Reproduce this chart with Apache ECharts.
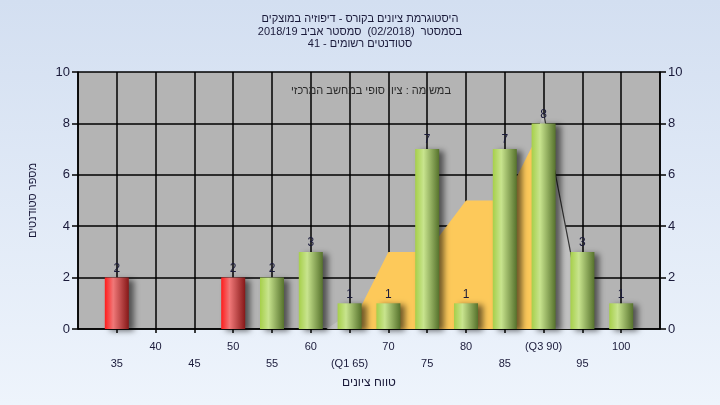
<!DOCTYPE html>
<html>
<head>
<meta charset="utf-8">
<script src="https://cdn.jsdelivr.net/npm/echarts@6/dist/echarts.min.js"></script>
<style>html,body{margin:0;padding:0;}#c{width:720px;height:405px;}</style>
</head>
<body>
<div id="c"></div>
<script>
// ---- data ----
const titleLines = ['היסטוגרמת ציונים בקורס - דיפוזיה במוצקים', 'בסמסטר  (02/2018)  סמסטר אביב 2018/19', 'סטודנטים רשומים - 41'];
const subtitle = 'במשימה : ציון סופי במחשב המרכזי';
const xName = 'טווח ציונים';
const yName = 'מספר סטודנטים';
const grades = [35, 40, 45, 50, 55, 60, 65, 70, 75, 80, 85, 90, 95, 100];
const counts = [2, 0, 0, 2, 2, 3, 1, 1, 7, 1, 7, 8, 3, 1];
const passGrade = 55;
const specialLabels = {65: '(Q1 65)', 90: '(Q3 90)'};
const areaX = [65, 70, 75, 80, 85, 90];
const areaY = [0, 3, 3, 5, 5, 8];
const shadeX = [62, 67, 85, 90, 95];
const shadeY = [0, 1, 4, 8.4, 0.6];
const edgeX = [90, 95];
const edgeY = [8.4, 0.6];
const xMin = 30, xMax = 105, xStep = 5;
const yMin = 0, yMax = 10, yStep = 2;

const FONT = 'Liberation Sans, DejaVu Sans, sans-serif';
const rtl = s => '\u202B' + s + '\u202C';
const zip = (a, b) => a.map((v, i) => [v, b[i]]);

const redGrad = new echarts.graphic.LinearGradient(0, 0, 1, 0, [
  {offset: 0, color: '#ff1c1c'}, {offset: 0.35, color: '#f07878'}, {offset: 1, color: '#861818'}
]);
const greenGrad = new echarts.graphic.LinearGradient(0, 0, 1, 0, [
  {offset: 0, color: '#a6cf4a'}, {offset: 0.35, color: '#c8e48e'}, {offset: 1, color: '#56722c'}
]);

const chart = echarts.init(document.getElementById('c'));
const yAxisCommon = {
  type: 'value', min: yMin, max: yMax, interval: yStep,
  axisLine: {show: true, lineStyle: {color: '#000', width: 1.5}},
  axisTick: {show: true, length: 6, lineStyle: {color: '#000', width: 1.5}},
  axisLabel: {color: '#1a1a3a', fontSize: 13, fontFamily: FONT, margin: 8},
  splitLine: {show: false}
};
chart.setOption({
  backgroundColor: new echarts.graphic.LinearGradient(0, 0, 0, 1, [
    {offset: 0, color: '#d3dff1'}, {offset: 1, color: '#eef4fc'}
  ]),
  title: [{
    text: titleLines.map(rtl).join('\n'), left: 'center', top: 8,
    textStyle: {fontSize: 11, fontWeight: 'normal', color: '#1a1a3a', fontFamily: FONT, lineHeight: 12.5}
  }, {
    text: rtl(subtitle), left: 366, top: 80, textAlign: 'center',
    textStyle: {fontSize: 11, fontWeight: 'normal', color: '#2a2a2a', fontFamily: FONT}
  }],
  grid: {left: 78, right: 60, top: 72, bottom: 76, show: true, backgroundColor: '#b4b4b4', borderWidth: 0},
  xAxis: {
    type: 'value', min: xMin, max: xMax, interval: xStep,
    name: rtl(xName), nameLocation: 'middle', nameGap: 44,
    nameTextStyle: {fontSize: 12, color: '#1a1a3a', fontFamily: FONT},
    axisLine: {show: true, lineStyle: {color: '#000', width: 1.5}},
    axisTick: {show: true, length: 4, lineStyle: {color: '#000', width: 1.5}},
    splitLine: {show: true, lineStyle: {color: '#000', width: 1.5}},
    axisLabel: {
      color: '#1a1a3a', fontSize: 11, fontFamily: FONT, margin: 9, lineHeight: 17,
      showMinLabel: false, showMaxLabel: false,
      formatter: v => {
        if (v <= xMin || v >= xMax) return '';
        const t = specialLabels[v] || String(v);
        return (v % 10 === 5) ? '\n' + t : t;
      }
    }
  },
  yAxis: [
    Object.assign({}, yAxisCommon, {
      position: 'left', name: rtl(yName), nameLocation: 'middle', nameGap: 40, nameRotate: 90,
      nameTextStyle: {fontSize: 11, color: '#1a1a3a', fontFamily: FONT},
      splitLine: {show: true, lineStyle: {color: '#000', width: 1.5}}
    }),
    Object.assign({}, yAxisCommon, {position: 'right'})
  ],
  series: [
    {
      type: 'line', data: zip(shadeX, shadeY), symbol: 'none', lineStyle: {width: 0},
      areaStyle: {color: '#c2c2c2', opacity: 1}, z: 1, silent: true
    },
    {
      type: 'line', data: zip(edgeX, edgeY), symbol: 'none',
      lineStyle: {width: 1.2, color: '#333'}, z: 2, silent: true
    },
    {
      type: 'line', data: zip(areaX, areaY), symbol: 'none', lineStyle: {width: 0},
      areaStyle: {color: '#fdc95a', opacity: 1}, z: 3, silent: true
    },
    {
      type: 'bar', barWidth: 24, z: 5,
      data: grades.map((g, i) => ({
        value: [g, counts[i]],
        itemStyle: {color: g < passGrade ? redGrad : greenGrad}
      })),
      itemStyle: {shadowColor: 'rgba(0,0,0,0.55)', shadowBlur: 6, shadowOffsetX: 5, shadowOffsetY: 2},
      label: {
        show: true, position: 'top', distance: 3, fontSize: 12, color: '#1a1a3a', fontFamily: FONT,
        formatter: p => p.value[1] > 0 ? String(p.value[1]) : ''
      }
    }
  ],
  animation: false
});
</script>
</body>
</html>
